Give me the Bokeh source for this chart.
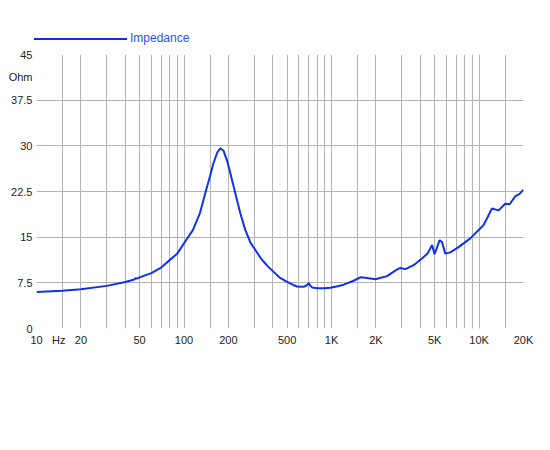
from bokeh.plotting import figure
from bokeh.models import FixedTicker, Div
from bokeh.layouts import column
from bokeh.embed import file_html
from bokeh.resources import INLINE

# impedance curve
freq = [10, 15, 20, 30, 40, 46, 47, 48, 50, 60, 70, 77, 90, 100, 115, 128, 141, 150,
        158, 168, 176, 185, 195, 205, 217, 230, 241, 260, 282, 310, 330, 346, 370,
        405, 448, 500, 550, 584, 647, 680, 700, 720, 738, 798, 900, 982, 1100, 1208,
        1400, 1567, 1694, 1981, 2377, 2700, 2924, 3162, 3600, 4100, 4470, 4800, 4990,
        5400, 5600, 5900, 6384, 7300, 8716, 10735, 12230, 13550, 15040, 16100, 17590,
        18800, 20000]
imp = [6.0, 6.2, 6.45, 7.0, 7.65, 8.05, 8.25, 8.2, 8.4, 9.1, 10.0, 10.9, 12.3, 14.0,
       16.2, 18.9, 22.7, 25.0, 27.1, 28.9, 29.6, 29.2, 27.7, 25.7, 23.3, 20.8, 18.9,
       16.2, 14.1, 12.6, 11.6, 11.0, 10.2, 9.3, 8.3, 7.66, 7.15, 6.9, 6.85, 7.1, 7.45,
       7.0, 6.75, 6.6, 6.62, 6.7, 6.95, 7.2, 7.8, 8.4, 8.35, 8.1, 8.6, 9.5, 9.95, 9.75,
       10.4, 11.5, 12.3, 13.7, 12.2, 14.5, 14.2, 12.3, 12.5, 13.4, 14.8, 17.0, 19.7,
       19.4, 20.5, 20.4, 21.7, 22.1, 22.8]
series_name = "Impedance"

# grid and tick positions
x_grid = [10, 15, 20, 30, 40, 50, 60, 70, 80, 90, 100, 150, 200, 300, 400, 500, 600,
          700, 800, 900, 1000, 1500, 2000, 3000, 4000, 5000, 6000, 7000, 8000, 9000,
          10000, 15000, 20000]
x_ticks = [10, 14.142, 20, 50, 100, 200, 500, 1000, 2000, 5000, 10000, 20000]
x_labels = ["10", "Hz", "20", "50", "100", "200", "500", "1K", "2K", "5K", "10K", "20K"]
y_grid = [0, 7.5, 15, 22.5, 30, 37.5, 45]
y_ticks = [0, 7.5, 15, 22.5, 30, 37.5, 41.25, 45]
y_labels = ["0", "7.5", "15", "22.5", "30", "37.5", "Ohm", "45"]

line_color = "#1030f0"

p = figure(frame_width=487, frame_height=274, x_axis_type="log",
           x_range=(10, 20000), y_range=(0, 45),
           output_backend="svg", toolbar_location=None,
           min_border_left=36, min_border_right=11, min_border_top=6, min_border_bottom=90)
p.outline_line_color = None
p.background_fill_color = "white"
p.border_fill_color = "white"

p.line(freq, imp, line_color=line_color, line_width=2)

for ax in (p.xaxis[0], p.yaxis[0]):
    ax.axis_line_color = None
    ax.major_tick_line_color = None
    ax.minor_tick_line_color = None
    ax.major_tick_out = 0
    ax.major_tick_in = 0
    ax.minor_tick_out = 0
    ax.major_label_text_font = "Liberation Sans"
    ax.major_label_text_font_size = "11px"
    ax.major_label_text_color = "#222222"
p.xaxis[0].major_label_standoff = 5
p.yaxis[0].major_label_standoff = 4

p.xaxis[0].ticker = FixedTicker(ticks=x_ticks)
p.xaxis[0].major_label_overrides = {t: l for t, l in zip(x_ticks, x_labels)}
p.yaxis[0].ticker = FixedTicker(ticks=y_ticks)
p.yaxis[0].major_label_overrides = {t: l for t, l in zip(y_ticks, y_labels)}

p.xgrid.ticker = FixedTicker(ticks=x_grid)
p.ygrid.ticker = FixedTicker(ticks=y_grid)
for g in (p.xgrid, p.ygrid):
    g.grid_line_color = "#b4b4b4"
    g.grid_line_alpha = 1
    g.grid_line_width = 1

# legend line + label above the plot
legend = Div(text=f"""
<div style="position:relative;width:534px;height:38px;">
  <div style="position:absolute;left:29px;top:33px;width:93px;height:0;border-top:2px solid {line_color};"></div>
  <span style="position:absolute;left:125px;top:25px;font-family:'Liberation Sans';font-size:12px;color:#2a4fff;">{series_name}</span>
</div>""", width=534, height=38)

open("out.html", "w").write(file_html(column(legend, p, spacing=0), INLINE))
